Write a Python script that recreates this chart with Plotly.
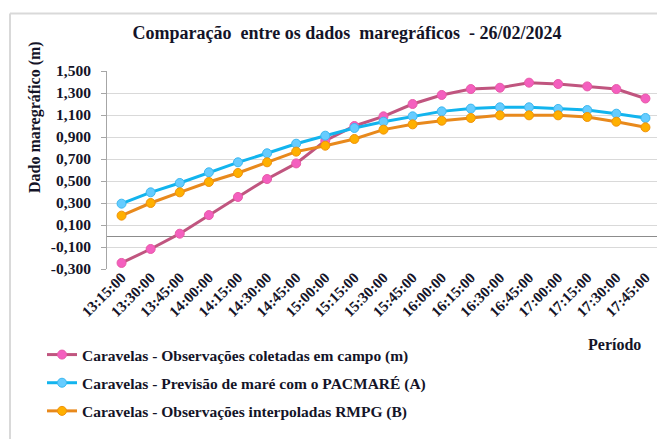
import plotly.graph_objects as go

categories = ["13:15:00", "13:30:00", "13:45:00", "14:00:00", "14:15:00", "14:30:00",
              "14:45:00", "15:00:00", "15:15:00", "15:30:00", "15:45:00", "16:00:00",
              "16:15:00", "16:30:00", "16:45:00", "17:00:00", "17:15:00", "17:30:00",
              "17:45:00"]

campo = [-0.245, -0.118, 0.021, 0.19, 0.355, 0.518, 0.66, 0.866, 1.0, 1.088, 1.2,
         1.282, 1.336, 1.348, 1.394, 1.382, 1.36, 1.336, 1.25]
pacmare = [0.294, 0.397, 0.482, 0.579, 0.67, 0.752, 0.839, 0.912, 0.982, 1.039, 1.088,
           1.133, 1.158, 1.17, 1.17, 1.155, 1.145, 1.112, 1.073]
rmpg = [0.185, 0.3, 0.397, 0.491, 0.573, 0.67, 0.767, 0.821, 0.882, 0.967, 1.015,
        1.048, 1.073, 1.097, 1.097, 1.097, 1.082, 1.039, 0.988]

names = ["Caravelas - Observações coletadas em campo (m)",
         "Caravelas - Previsão de maré com o PACMARÉ (A)",
         "Caravelas - Observações interpoladas RMPG (B)"]
ytick_vals = [-0.3, -0.1, 0.1, 0.3, 0.5, 0.7, 0.9, 1.1, 1.3, 1.5]
ytick_text = ["-0,300", "-0,100", "0,100", "0,300", "0,500", "0,700", "0,900",
              "1,100", "1,300", "1,500"]

FONT = "Liberation Serif, Times New Roman, serif"
TXT = "#141428"

# page body has an 8px margin: figure coordinates = window coordinates - 8
OFF = 8
W, H = 665 - OFF, 439 - OFF
L, T = 107 - OFF, 71 - OFF
R = W - (660 - OFF)
B = H - (269 - OFF)
pw, ph = W - L - R, H - T - B


def px(x):
    return (x - OFF - L) / pw


def py(y):
    return (H - B - (y - OFF)) / ph


styles = [
    dict(line="#c0557f", fill="#f45fbf", edge="#e85aa8"),
    dict(line="#12b4ee", fill="#66ccff", edge="#3bb8f0"),
    dict(line="#e8891c", fill="#ffb000", edge="#f0920c"),
]

fig = go.Figure()
for i, (vals, nm, st) in enumerate(zip([campo, pacmare, rmpg], names, styles)):
    fig.add_trace(go.Scatter(
        x=categories, y=vals, name=nm, mode="lines+markers",
        legendgroup=f"g{i}",
        line=dict(color=st["line"], width=3),
        marker=dict(size=9, color=st["fill"], line=dict(color=st["edge"], width=1)),
    ))

fig.update_layout(
    width=W, height=H,
    margin=dict(l=L, r=R, t=T, b=B, autoexpand=False),
    paper_bgcolor="white", plot_bgcolor="white",
    font=dict(family=FONT, color=TXT, size=15),
    title=dict(text="Comparação\u00a0 entre os dados\u00a0 maregráficos\u00a0 - 26/02/2024",
               x=(347 - OFF) / W, xref="container", xanchor="center",
               y=1 - (33 - OFF) / H, yref="container", yanchor="middle",
               font=dict(family=FONT, size=18, color=TXT, weight="bold")),
    showlegend=True,
    legend=dict(xref="container", yref="container", x=(42 - OFF) / W,
                y=1 - (338 - OFF) / H,
                xanchor="left", yanchor="top", tracegroupgap=5,
                font=dict(family=FONT, size=15.5, color=TXT, weight="bold"),
                bgcolor="rgba(0,0,0,0)"),
    xaxis=dict(type="category", tickangle=-45, showgrid=False, showline=False,
               ticks="", ticklabelstandoff=-4,
               tickfont=dict(family=FONT, size=15, color=TXT, weight="bold"),
               range=[-0.5, 18.5]),
    yaxis=dict(range=[-0.3, 1.5], tickvals=ytick_vals, ticktext=ytick_text,
               showgrid=True, gridcolor="#d9d9d9", gridwidth=1,
               zeroline=True, zerolinecolor="#8c8c8c", zerolinewidth=1,
               showline=True, linecolor="#a6a6a6", linewidth=1,
               ticks="outside", ticklen=5, tickcolor="#a6a6a6",
               ticklabelstandoff=7,
               tickfont=dict(family=FONT, size=15.5, color=TXT, weight="bold")),
    annotations=[
        dict(text="Dado maregráfico (m)", textangle=-90, xref="paper", yref="paper",
             x=px(35), y=py(117), showarrow=False, xanchor="center", yanchor="middle",
             font=dict(family=FONT, size=16, color=TXT, weight="bold")),
        dict(text="Período", xref="paper", yref="paper", x=px(614), y=py(344),
             showarrow=False, xanchor="center", yanchor="middle",
             font=dict(family=FONT, size=16, color=TXT, weight="bold")),
    ],
    shapes=[
        dict(type="line", xref="paper", yref="paper", x0=px(10), x1=px(665),
             y0=py(13.5), y1=py(13.5), line=dict(color="#d9d9d9", width=2)),
        dict(type="line", xref="paper", yref="paper", x0=px(10), x1=px(10),
             y0=py(13.5), y1=py(439), line=dict(color="#d9d9d9", width=2)),
    ],
)

fig.write_html("out.html")
